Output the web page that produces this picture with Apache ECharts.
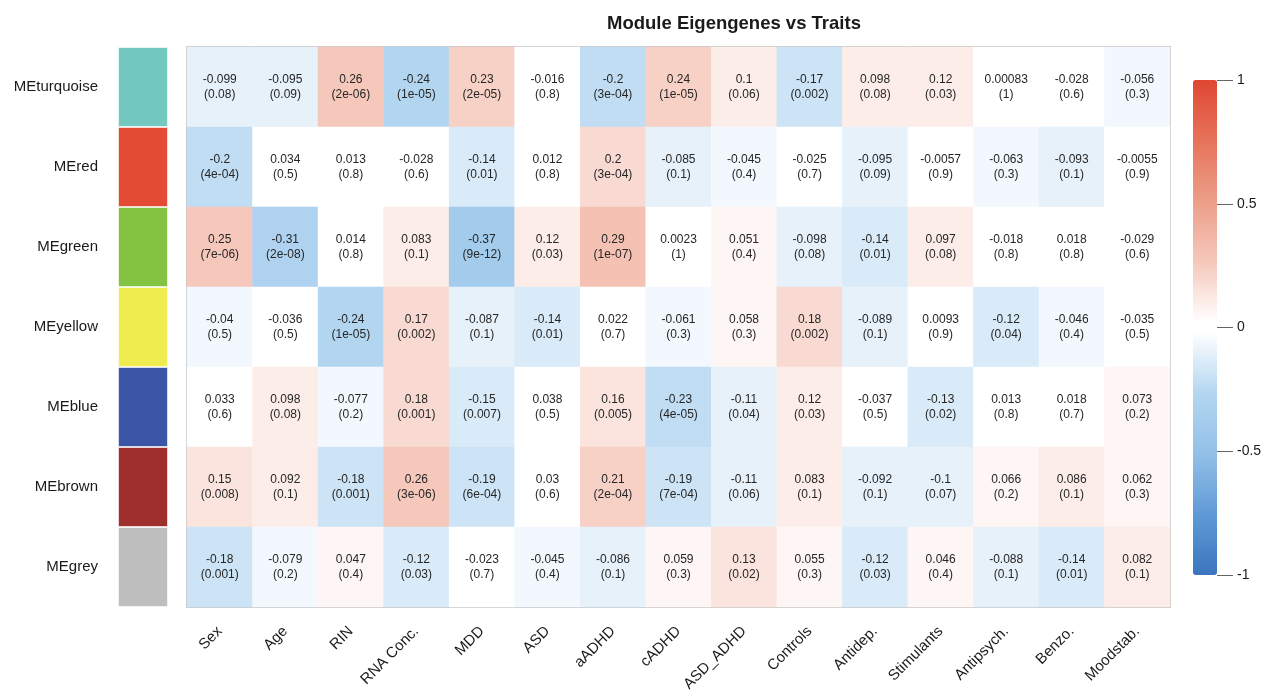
<!DOCTYPE html>
<html lang="en">
<head>
<meta charset="UTF-8">
<title>Module Eigengenes vs Traits</title>
<script src="https://cdn.jsdelivr.net/npm/echarts@6/dist/echarts.min.js"></script>
<style>html,body{margin:0;padding:0;background:#fff}</style>
</head>
<body>
<div id="main" style="width:1279px;height:697px;"></div>
<script>
const modules = ['MEturquoise', 'MEred', 'MEgreen', 'MEyellow', 'MEblue', 'MEbrown', 'MEgrey']
const moduleColors = ['#73c9c0', '#e34b35', '#84c342', '#eeec4f', '#3b56a6', '#9f2f2d', '#bebebe']
const traits = ['Sex', 'Age', 'RIN', 'RNA Conc.', 'MDD', 'ASD', 'aADHD', 'cADHD', 'ASD_ADHD', 'Controls', 'Antidep.', 'Stimulants', 'Antipsych.', 'Benzo.', 'Moodstab.']

// module-trait correlations, one row per module
const corr = [
  [-0.099, -0.095, 0.26, -0.24, 0.23, -0.016, -0.2, 0.24, 0.1, -0.17, 0.098, 0.12, 0.00083, -0.028, -0.056],
  [-0.2, 0.034, 0.013, -0.028, -0.14, 0.012, 0.2, -0.085, -0.045, -0.025, -0.095, -0.0057, -0.063, -0.093, -0.0055],
  [0.25, -0.31, 0.014, 0.083, -0.37, 0.12, 0.29, 0.0023, 0.051, -0.098, -0.14, 0.097, -0.018, 0.018, -0.029],
  [-0.04, -0.036, -0.24, 0.17, -0.087, -0.14, 0.022, -0.061, 0.058, 0.18, -0.089, 0.0093, -0.12, -0.046, -0.035],
  [0.033, 0.098, -0.077, 0.18, -0.15, 0.038, 0.16, -0.23, -0.11, 0.12, -0.037, -0.13, 0.013, 0.018, 0.073],
  [0.15, 0.092, -0.18, 0.26, -0.19, 0.03, 0.21, -0.19, -0.11, 0.083, -0.092, -0.1, 0.066, 0.086, 0.062],
  [-0.18, -0.079, 0.047, -0.12, -0.023, -0.045, -0.086, 0.059, 0.13, 0.055, -0.12, 0.046, -0.088, -0.14, 0.082]
]

// p-values as printed
const pvals = [
  ['0.08', '0.09', '2e-06', '1e-05', '2e-05', '0.8', '3e-04', '1e-05', '0.06', '0.002', '0.08', '0.03', '1', '0.6', '0.3'],
  ['4e-04', '0.5', '0.8', '0.6', '0.01', '0.8', '3e-04', '0.1', '0.4', '0.7', '0.09', '0.9', '0.3', '0.1', '0.9'],
  ['7e-06', '2e-08', '0.8', '0.1', '9e-12', '0.03', '1e-07', '1', '0.4', '0.08', '0.01', '0.08', '0.8', '0.8', '0.6'],
  ['0.5', '0.5', '1e-05', '0.002', '0.1', '0.01', '0.7', '0.3', '0.3', '0.002', '0.1', '0.9', '0.04', '0.4', '0.5'],
  ['0.6', '0.08', '0.2', '0.001', '0.007', '0.5', '0.005', '4e-05', '0.04', '0.03', '0.5', '0.02', '0.8', '0.7', '0.2'],
  ['0.008', '0.1', '0.001', '3e-06', '6e-04', '0.6', '2e-04', '7e-04', '0.06', '0.1', '0.1', '0.07', '0.2', '0.1', '0.3'],
  ['0.001', '0.2', '0.4', '0.03', '0.7', '0.4', '0.1', '0.3', '0.02', '0.3', '0.03', '0.4', '0.1', '0.01', '0.1']
]

const legendTicks = [-1, -0.5, 0, 0.5, 1]

const font = 'Liberation Sans, Arial, sans-serif'

// blue-white-red palette, 50 steps, two white steps in the middle
function ramp(stops, n) {
  const out = []
  for (let i = 0; i < n; i++) out.push(echarts.color.lerp(i / (n - 1), stops))
  return out
}
const palette = ramp(['#3a75be', '#5f9ad6', '#93c0e8', '#b3d6f0', '#ffffff'], 25)
  .concat(ramp(['#ffffff', '#f5c8bb', '#ec9e88', '#e7735a', '#e04632'], 25))

const cells = []
corr.forEach((row, i) => row.forEach((v, j) => cells.push([j, i, v])))

var myChart = echarts.init(document.getElementById('main'))

var option = {
  animation: false,
  backgroundColor: '#fff',
  textStyle: { fontFamily: font },
  title: {
    text: 'Module Eigengenes vs Traits',
    left: 602,
    top: 9,
    textStyle: { fontSize: 18.5, fontWeight: 'bold', color: '#1a1a1a', fontFamily: font }
  },
  grid: [
    // heatmap
    { left: 187, top: 47, width: 983, height: 560, show: true, borderColor: '#c9c9c9', borderWidth: 2, outerBoundsMode: 'none' },
    // module colour swatches
    { left: 118, top: 47, width: 50, height: 560, outerBoundsMode: 'none' },
    // tick marks right of the colour bar
    { left: 1217, top: 80, width: 16, height: 495, outerBoundsMode: 'none' }
  ],
  xAxis: [
    {
      gridIndex: 0,
      type: 'category',
      data: traits,
      axisLine: { show: false },
      axisTick: { show: false },
      splitLine: { show: false },
      axisLabel: { rotate: 45, margin: 22, fontSize: 15, color: '#1a1a1a', fontFamily: font, interval: 0 }
    },
    { gridIndex: 1, type: 'value', min: 0, max: 1, show: false },
    { gridIndex: 2, type: 'value', min: 0, max: 1, show: false }
  ],
  yAxis: [
    {
      gridIndex: 0,
      type: 'category',
      data: modules,
      inverse: true,
      axisLine: { show: false },
      axisTick: { show: false },
      axisLabel: { show: false },
      splitLine: { show: false }
    },
    {
      gridIndex: 1,
      type: 'category',
      data: modules,
      inverse: true,
      axisLine: { show: false },
      axisTick: { show: false },
      axisLabel: { margin: 20, fontSize: 15, color: '#1a1a1a', fontFamily: font }
    },
    {
      gridIndex: 2,
      type: 'value',
      position: 'right',
      min: legendTicks[0],
      max: legendTicks[legendTicks.length - 1],
      interval: 0.5,
      axisLine: { show: false },
      axisTick: { show: false },
      splitLine: { show: true, lineStyle: { color: '#666', width: 1, type: 'solid' } },
      axisLabel: { margin: 4, fontSize: 14, color: '#1a1a1a', fontFamily: font }
    }
  ],
  visualMap: [
    {
      // colours the cells in 50 steps
      type: 'piecewise',
      show: false,
      seriesIndex: 0,
      min: -1,
      max: 1,
      splitNumber: 50,
      inRange: { color: palette }
    },
    {
      // colour bar only
      type: 'continuous',
      seriesIndex: [],
      min: -1,
      max: 1,
      calculable: false,
      hoverLink: false,
      left: 1193,
      top: 80,
      padding: 0,
      itemWidth: 24,
      itemHeight: 495,
      text: null,
      showLabel: false,
      inRange: { color: palette }
    }
  ],
  series: [
    {
      type: 'heatmap',
      xAxisIndex: 0,
      yAxisIndex: 0,
      data: cells,
      label: {
        show: true,
        fontSize: 12,
        lineHeight: 15,
        color: '#262626',
        fontFamily: font,
        formatter: p => p.data[2] + '\n(' + pvals[p.data[1]][p.data[0]] + ')'
      },
      emphasis: { disabled: true }
    },
    {
      type: 'bar',
      xAxisIndex: 1,
      yAxisIndex: 1,
      barWidth: '100%',
      data: modules.map((m, i) => ({ value: 1, itemStyle: { color: moduleColors[i] } })),
      itemStyle: { borderColor: 'rgba(255,255,255,0.6)', borderWidth: 1 },
      emphasis: { disabled: true },
      silent: true
    }
  ]
}
myChart.setOption(option)
</script>
</body>
</html>
